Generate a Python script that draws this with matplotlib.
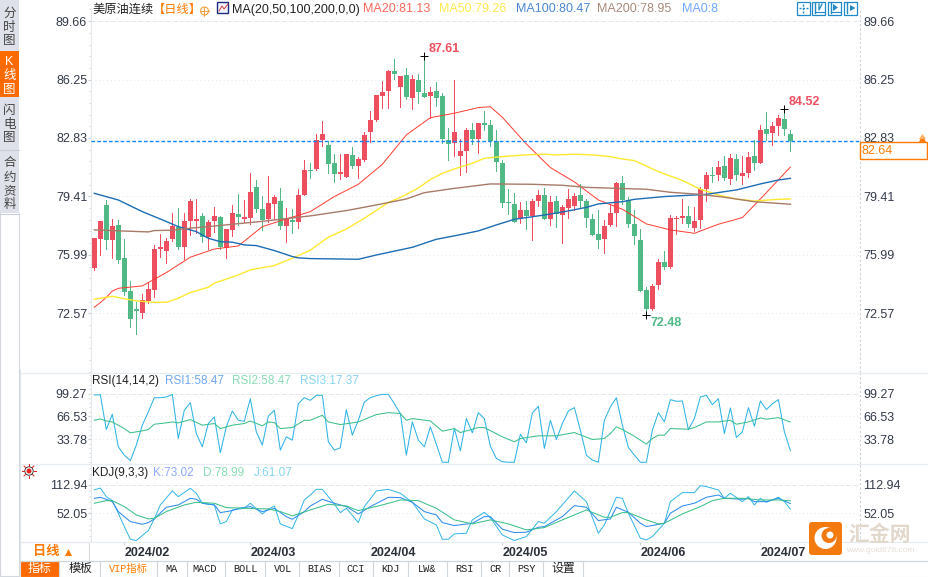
import numpy as np
import matplotlib
matplotlib.use("Agg")
import matplotlib.pyplot as plt
from matplotlib import patches
from matplotlib.ticker import AutoMinorLocator

plt.rcParams['font.family'] = ['Liberation Sans', 'Noto Sans CJK SC', 'DejaVu Sans']

opens = [75.24, 76.94, 78.89, 76.86, 77.74, 75.81, 73.87, 72.76, 72.61, 73.29,
         73.93, 76.33, 76.24, 76.90, 77.64, 76.45, 77.99, 77.99, 78.27, 77.06,
         77.99, 78.21, 76.39, 77.45, 78.40, 78.09, 78.15, 79.95, 78.68, 78.07,
         78.97, 79.15, 77.68, 77.97, 77.94, 79.50, 80.94, 81.04, 82.71, 82.42,
         81.35, 80.75, 80.57, 81.84, 81.21, 81.55, 83.18, 83.89, 85.29, 85.59,
         86.76, 85.84, 86.52, 85.18, 86.23, 85.47, 85.29, 85.59, 85.29, 82.72,
         82.56, 81.78, 82.07, 83.30, 82.77, 83.71, 83.59, 82.66, 81.35, 79.09,
         78.97, 78.11, 78.62, 78.27, 79.15, 79.50, 78.09, 79.15, 78.32, 78.73,
         78.85, 79.50, 79.15, 78.09, 77.21, 76.92, 77.74, 78.44, 80.20, 79.20,
         77.80, 76.86, 73.93, 72.82, 74.23, 75.57, 75.28, 78.07, 78.17, 78.27,
         77.56, 78.03, 79.85, 80.67, 80.67, 81.19, 80.45, 81.60, 80.61, 80.78,
         81.78, 81.37, 83.36, 83.12, 83.54, 83.94, 83.07]
closes = [76.96, 77.96, 76.86, 77.68, 75.69, 73.84, 72.24, 72.72, 73.33, 73.99,
          76.33, 76.43, 76.80, 77.68, 76.45, 77.96, 79.15, 78.09, 77.06, 77.92,
          78.27, 76.45, 77.49, 78.44, 78.23, 78.21, 79.67, 78.68, 78.03, 79.01,
          79.36, 77.68, 78.13, 77.93, 79.50, 80.96, 80.90, 82.71, 83.07, 81.33,
          80.75, 80.84, 81.90, 81.19, 81.60, 83.01, 83.89, 85.35, 85.53, 86.76,
          86.58, 86.46, 85.23, 86.27, 85.53, 85.23, 85.53, 85.18, 82.75, 82.46,
          83.18, 82.07, 83.30, 82.77, 83.71, 83.61, 82.66, 81.43, 79.05, 79.01,
          77.93, 78.62, 78.27, 79.15, 79.50, 78.09, 79.09, 78.38, 78.79, 79.26,
          79.44, 79.15, 78.15, 77.15, 76.86, 77.68, 78.44, 80.20, 79.20, 77.80,
          77.10, 73.87, 72.82, 74.17, 75.57, 75.28, 78.15, 78.11, 78.21, 77.80,
          77.97, 79.85, 80.67, 80.59, 81.14, 80.49, 81.66, 80.67, 80.78, 81.72,
          81.37, 83.30, 83.07, 83.54, 84.00, 83.36, 82.64]
highs = [76.96, 77.96, 79.20, 78.07, 78.03, 76.90, 74.46, 73.25, 73.70, 74.33,
         76.57, 77.21, 76.96, 78.42, 78.74, 78.42, 79.24, 79.26, 78.46, 78.03,
         78.81, 78.27, 77.49, 78.91, 79.56, 79.20, 80.78, 80.38, 79.44, 80.61,
         79.48, 79.89, 78.72, 78.70, 79.85, 81.55, 81.35, 83.07, 83.83, 82.68,
         81.88, 81.90, 81.90, 82.33, 81.70, 83.20, 84.41, 85.35, 86.17, 86.81,
         87.45, 86.46, 86.91, 86.52, 86.58, 87.61, 85.84, 86.13, 85.45, 83.40,
         86.23, 82.75, 83.40, 83.73, 83.71, 84.41, 83.89, 83.30, 81.54, 79.85,
         79.59, 79.09, 79.15, 79.24, 79.79, 79.91, 79.44, 79.44, 78.91, 79.85,
         79.61, 80.14, 79.26, 78.38, 78.62, 78.03, 78.97, 80.26, 80.61, 79.38,
         78.62, 77.49, 74.09, 74.29, 75.75, 76.22, 78.32, 78.27, 79.24, 78.85,
         78.77, 79.95, 80.84, 81.12, 81.49, 81.78, 81.90, 81.90, 81.78, 82.03,
         82.71, 83.59, 84.36, 83.77, 84.18, 84.52, 83.30]
lows = [75.11, 75.98, 76.33, 75.79, 75.54, 73.64, 71.75, 71.36, 72.30, 73.19,
        73.50, 75.85, 75.54, 76.82, 76.33, 75.73, 77.16, 77.25, 76.74, 76.32,
        77.35, 76.32, 75.81, 77.10, 77.74, 77.94, 77.80, 78.52, 77.45, 77.90,
        78.07, 77.49, 76.74, 77.25, 77.58, 79.50, 80.47, 80.96, 82.38, 80.80,
        80.28, 80.41, 80.53, 81.06, 80.51, 81.49, 82.62, 83.85, 84.61, 84.57,
        86.27, 84.67, 85.10, 84.55, 84.86, 85.23, 83.98, 84.71, 82.52, 81.55,
        81.78, 80.67, 80.86, 82.48, 81.97, 83.30, 82.38, 80.90, 78.81, 78.38,
        77.90, 77.88, 77.51, 76.86, 78.85, 78.09, 77.74, 77.62, 76.69, 78.15,
        78.62, 78.72, 77.62, 77.15, 76.39, 76.10, 77.68, 77.68, 78.97, 77.62,
        76.63, 73.87, 72.48, 72.76, 73.99, 75.16, 75.24, 77.21, 77.86, 77.62,
        77.39, 77.56, 79.15, 80.24, 80.37, 80.37, 80.14, 80.37, 80.14, 80.57,
        80.96, 81.37, 82.71, 82.42, 83.01, 83.01, 82.07]

ma20_i = [0, 1, 2, 3, 4, 8, 12, 16, 20, 24, 28, 32, 36, 40, 44, 48, 52, 56, 60, 64,
          66, 68, 72, 76, 80, 84, 88, 92, 96, 100, 104, 108, 112, 116]
ma20 = [72.92, 73.19, 73.50, 73.87, 74.03, 74.17, 74.95, 75.85, 76.33, 76.51, 77.64,
        78.09, 78.52, 79.40, 80.12, 81.29, 83.01, 84.02, 84.28, 84.61, 84.66, 84.04,
        82.48, 81.10, 80.26, 79.20, 78.66, 77.80, 77.45, 77.25, 77.78, 78.17, 79.63, 81.13]
ma50_i = [0, 3, 7, 10, 12, 14, 16, 19, 20, 24, 26, 30, 33, 36, 39, 42, 45, 49, 51, 54,
          56, 58, 60, 63, 65, 68, 72, 75, 77, 80, 83, 86, 88, 90, 94, 98, 101, 104, 107,
          110, 114, 116]
ma50 = [73.39, 73.56, 73.29, 73.21, 73.21, 73.45, 73.78, 74.09, 74.33, 74.81, 75.11,
        75.36, 75.79, 76.26, 77.02, 77.50, 78.13, 79.05, 79.35, 79.90, 80.40, 80.76,
        81.02, 81.35, 81.64, 81.74, 81.84, 81.88, 81.84, 81.88, 81.84, 81.74, 81.60,
        81.51, 80.86, 80.34, 79.83, 79.49, 79.26, 79.14, 79.24, 79.26]
ma100_i = [0, 4, 8, 12, 14, 17, 19, 21, 23, 25, 27, 30, 33, 34, 36, 44, 47, 53, 57, 60,
           64, 67, 70, 75, 79, 82, 84, 88, 90, 95, 102, 107, 111, 114, 116]
ma100 = [79.59, 79.20, 78.52, 77.94, 77.64, 77.35, 76.96, 76.76, 76.73, 76.57, 76.53,
         76.24, 75.89, 75.81, 75.77, 75.73, 75.98, 76.43, 76.90, 77.10, 77.39, 77.74,
         78.07, 78.32, 78.56, 78.77, 78.97, 79.10, 79.24, 79.40, 79.53, 79.79, 80.14,
         80.37, 80.47]
ma200_i = [0, 9, 10, 13, 16, 19, 23, 28, 30, 36, 42, 47, 52, 55, 60, 66, 73, 78, 82, 88,
           92, 96, 101, 105, 110, 116]
ma200 = [77.45, 77.33, 77.41, 77.43, 77.55, 77.64, 77.78, 77.95, 78.03, 78.27, 78.58,
         78.91, 79.26, 79.63, 79.88, 80.14, 80.12, 80.06, 79.94, 79.87, 79.83, 79.65,
         79.53, 79.36, 79.10, 78.95]

rsi_fast = [97.4, 97.8, 47.7, 69.6, 22.8, 10.8, 2.7, 25.2, 53.9, 73.0,
            93.5, 93.5, 94.5, 98.3, 34.7, 75.4, 86.4, 41.9, 22.8, 56.3,
            65.8, 14.2, 51.5, 74.4, 61.0, 59.6, 92.1, 44.3, 25.2, 66.8,
            75.4, 18.0, 37.1, 32.3, 84.9, 93.5, 89.7, 96.9, 96.9, 30.0,
            18.0, 21.4, 76.3, 39.5, 61.0, 87.3, 93.5, 96.4, 98.3, 98.3,
            84.9, 70.6, 10.8, 58.7, 32.3, 22.8, 51.5, 26.6, 0.5, 0.5,
            49.1, 17.0, 63.4, 42.9, 72.0, 63.4, 23.7, 6.0, 1.3, 0.5,
            0.5, 40.9, 28.5, 71.5, 81.1, 20.4, 61.0, 33.3, 56.3, 74.4,
            79.2, 46.7, 10.8, 3.7, 0.5, 61.0, 80.1, 93.5, 53.9, 21.8,
            10.8, 0.5, 0.5, 46.7, 72.0, 58.7, 90.7, 88.3, 88.8, 47.6,
            63.4, 94.5, 96.9, 83.5, 92.1, 41.9, 78.7, 36.2, 44.3, 79.2,
            52.4, 88.8, 76.3, 84.9, 90.7, 44.3, 17.37]
rsi_slow_i = [0, 1, 2, 3, 5, 6, 8, 9, 10, 12, 13, 14, 16, 18, 20, 21, 23, 25, 26, 28,
              29, 30, 31, 33, 35, 36, 38, 39, 41, 43, 44, 47, 49, 51, 52, 53, 56, 58, 60, 61,
              64, 65, 68, 70, 71, 74, 77, 80, 83, 85, 86, 87, 88, 90, 92, 93, 94, 95, 96, 99,
              100, 102, 104, 106, 107, 109, 111, 112, 114, 116]
rsi_slow = [61.0, 63.0, 60.0, 58.6, 49.0, 42.9, 45.7, 47.6, 55.3, 57.2, 58.6, 57.2, 62.0,
            53.9, 56.3, 49.0, 53.9, 56.3, 60.0, 53.0, 58.6, 57.7, 49.0, 50.5, 61.0, 61.0,
            68.2, 58.6, 54.8, 57.2, 58.6, 69.2, 72.0, 70.6, 61.0, 63.4, 60.0, 45.3, 49.0,
            43.3, 50.5, 50.5, 37.1, 30.0, 34.7, 38.6, 38.6, 43.3, 33.3, 34.7, 41.9, 51.5,
            47.6, 38.0, 26.6, 34.7, 39.5, 39.5, 49.0, 48.1, 50.5, 58.6, 58.6, 61.0, 55.3,
            58.6, 64.4, 62.5, 64.8, 58.47]

kdj_j_i = [0, 1, 2, 3, 4, 5, 6, 7, 8, 9, 10, 11, 13, 14, 16, 17, 18, 20, 21, 22, 23, 25,
           26, 28, 29, 30, 31, 33, 34, 35, 36, 37, 38, 40, 41, 42, 44, 45, 47, 49, 51, 53,
           55, 57, 58, 59, 60, 62, 63, 65, 66, 68, 70, 72, 74, 75, 77, 80, 82, 84, 85, 87,
           88, 89, 91, 92, 93, 95, 96, 98, 100, 101, 102, 104, 105, 106, 108, 109, 110,
           111, 112, 114, 115, 116]
kdj_j = [102.2, 106.5, 87.9, 79.3, 52.1, 23.4, -3.8, -6.6, 4.1, 14.9, 39.9, 70.0, 100.1,
         87.9, 105.8, 95.1, 73.6, 70.0, 29.2, 34.2, 59.2, 62.8, 73.6, 50.7, 60.7, 67.8,
         29.2, 19.1, 48.5, 80.7, 91.5, 103.6, 103.6, 72.1, 53.5, 62.8, 32.0, 66.4, 100.1,
         103.6, 95.1, 75.7, 39.9, 27.0, -3.8, -3.8, 7.7, 9.1, 37.8, 54.2, 42.8, 5.5, -6.6,
         2.0, 34.2, 30.6, 55.7, 100.1, 77.1, 9.1, 27.0, 86.5, 84.3, 52.1, -1.6, -5.2, 2.0,
         30.6, 77.1, 96.5, 96.5, 111.5, 109.4, 102.2, 84.3, 95.1, 77.1, 87.9, 70.0, 84.3,
         75.7, 86.5, 77.1, 61.07]
kdj_k_i = [0, 1, 2, 3, 4, 6, 8, 9, 10, 12, 14, 16, 17, 18, 20, 21, 23, 24, 26, 28, 29, 30,
           32, 33, 35, 36, 38, 40, 42, 44, 46, 49, 51, 53, 55, 57, 58, 60, 63, 65, 66, 68,
           70, 72, 74, 75, 78, 80, 82, 84, 86, 87, 89, 91, 92, 95, 96, 98, 100, 102, 104,
           105, 108, 109, 110, 112, 114, 116]
kdj_k = [84.3, 86.5, 82.2, 77.1, 55.7, 34.2, 28.5, 32.0, 39.9, 65.0, 70.0, 84.3, 82.2, 73.6,
         70.0, 53.5, 57.8, 62.8, 66.4, 55.7, 59.2, 62.8, 44.9, 39.2, 55.7, 67.8, 82.2, 73.6,
         66.4, 50.7, 66.4, 86.5, 85.7, 75.7, 55.7, 48.5, 32.0, 25.6, 30.6, 44.9, 44.9, 17.7,
         10.6, 11.3, 22.0, 23.4, 44.9, 68.6, 65.0, 36.3, 39.9, 65.0, 54.2, 30.6, 23.4, 30.6,
         52.1, 67.8, 73.6, 86.5, 91.5, 84.3, 82.2, 84.3, 77.1, 77.1, 84.3, 73.02]
kdj_d_i = [0, 2, 3, 5, 7, 9, 10, 12, 15, 17, 20, 22, 25, 29, 31, 33, 36, 39, 42, 44, 48, 51,
           54, 57, 60, 63, 66, 69, 72, 75, 78, 82, 85, 86, 88, 89, 92, 94, 95, 98, 101, 103,
           105, 108, 111, 114, 116]
kdj_d = [73.6, 79.3, 79.3, 66.4, 48.5, 39.9, 41.3, 55.7, 70.0, 75.7, 73.6, 64.3, 62.8, 61.4,
         55.7, 46.4, 59.2, 71.4, 67.8, 57.8, 70.0, 80.7, 79.3, 62.8, 37.8, 29.2, 37.8, 29.2,
         16.3, 21.3, 37.8, 59.2, 43.5, 43.5, 53.5, 53.5, 37.8, 29.2, 30.6, 50.7, 66.4, 79.3,
         84.3, 84.3, 80.7, 80.7, 78.99]

price_ticks = [72.57, 75.99, 79.41, 82.83, 86.25, 89.66]
rsi_ticks = [33.78, 66.53, 99.27]
kdj_ticks = [52.05, 112.94]
date_i = [5, 26, 46, 68, 91, 111]
date_labels = ['2024/02', '2024/03', '2024/04', '2024/05', '2024/06', '2024/07']
last_price = 82.64

W, H = 929, 577
RED, GREEN = '#ee4f5f', '#50b986'
TICK = '#333a4a'
GRID = '#e4e6e8'
ORANGE = '#ff7a00'


def panel(fig, y0, y1, ylim, ticks):
    ax = fig.add_axes([90.7 / W, 1 - y1 / H, (860 - 90.7) / W, (y1 - y0) / H])
    # one candle every 6 px, first one at x=94.3
    ax.set_xlim(-0.6, 127.6)
    ax.set_ylim(*ylim)
    ax.set_yticks(ticks)
    ax.set_yticklabels([f"{t:.2f}" for t in ticks], fontsize=9, color=TICK)
    ax.tick_params(axis='y', which='major', length=2, color='#c8d0d8', pad=0.5,
                   labelleft=True, labelright=True, left=True, right=False, direction='out')
    ax.tick_params(axis='y', which='minor', length=1.5, color='#d0d6dc', left=True, right=False)
    ax.yaxis.set_minor_locator(AutoMinorLocator(5))
    ax.set_xticks([])
    for t in ticks:
        ax.axhline(t, color=GRID, lw=0.7, ls=(0, (1, 3)), zorder=0)
    ax.axhline(ticks[-1], color=GRID, lw=0.7, ls=(0, (4, 3)), zorder=0)
    for s in ax.spines.values():
        s.set_visible(False)
    ax.spines['left'].set_visible(True)
    ax.spines['left'].set_color('#e3e8ec')
    ax.spines['right'].set_visible(True)
    ax.spines['right'].set_color('#c8d0d8')
    ax.spines['right'].set_linestyle((0, (1, 3)))
    ax.patch.set_alpha(0)
    return ax


def candles(ax):
    x = np.arange(len(closes))
    o, h, l, c = map(np.array, (opens, highs, lows, closes))
    col = np.where(c >= o, RED, GREEN)
    ax.vlines(x, l, h, colors=col, lw=0.72, zorder=2, antialiased=False)
    body = np.maximum(np.abs(c - o), 0.07)
    ax.bar(x, body, bottom=np.minimum(o, c), width=0.9, color=col, lw=0, zorder=3, antialiased=False)


def mark_extreme(ax, i, value, color, dx, dy):
    ax.plot([i], [value], marker='+', color='black', ms=6, mew=0.7, zorder=5, ls='none')
    ax.annotate(f"{value:.2f}", (i, value), xytext=(dx, dy), textcoords='offset pixels',
                color=color, fontsize=9, fontweight='bold', va='center', zorder=6)


def furniture(ui):
    # side tabs
    ui.add_patch(patches.Rectangle((0, 0), 19.5, 213, color='#dfe1ea', lw=0))
    ui.add_patch(patches.Rectangle((0, 51), 19.5, 46, color='#ff6a00', lw=0))
    ui.plot([19.5, 19.5, 0.5, 0.5], [213, 576, 576, 213], color='#d3d8de', lw=0.8)
    ui.plot([0, 19.5], [149.5, 149.5], color='#c9ccd6', lw=0.8)
    ui.plot([0, 19.5], [213.5, 213.5], color='#c9ccd6', lw=0.8)
    side = [('分', 14, '#444'), ('时', 28, '#444'), ('图', 41, '#444'),
            ('K', 62, 'white'), ('线', 76, 'white'), ('图', 90, 'white'),
            ('闪', 111, '#444'), ('电', 125, '#444'), ('图', 138, '#444'),
            ('合', 163, '#444'), ('约', 178, '#444'), ('资', 191, '#444'), ('料', 205, '#444')]
    for ch, y, col in side:
        ui.text(9.5, y, ch, color=col, fontsize=9, ha='center', va='center')

    # panel separators
    for y in [372.5, 463.5, 541.5]:
        ui.plot([20, 929], [y, y], color='#e6ecf0', lw=0.9)
    ui.plot([20, 20], [370, 577], color='#dfe4e8', lw=0.8)

    # header legends
    y = 9.5
    ui.text(92, y, '美原油连续', color='#222', fontsize=8.8, va='center')
    ui.text(153, y, '【日线】', color=ORANGE, fontsize=8.8, va='center')
    ui.add_patch(patches.Circle((204.5, 11), 4, fc='none', ec='#f5a040', lw=0.8))
    ui.plot([200, 209], [11, 11], color='#f5a040', lw=0.7)
    ui.plot([204.5, 204.5], [6.5, 15.5], color='#f5a040', lw=0.7)
    ui.add_patch(patches.Rectangle((217.5, 2), 11, 11, fc='#f4f6ff', ec='#1c2a80', lw=1))
    ui.plot([219, 222, 224, 228], [11, 6, 9, 4], color='#d04040', lw=0.7)
    header = [(232, 'MA(20,50,100,200,0,0)', '#222'), (363, 'MA20:81.13', '#f96a5a'),
              (439, 'MA50:79.26', '#ffe94f'), (516, 'MA100:80.47', '#4a88d4'),
              (597, 'MA200:78.95', '#a98a7c'), (682, 'MA0:8', '#6fa8ff')]
    for x, s, col in header:
        ui.text(x, y, s, color=col, fontsize=9, va='center')
    ui.text(92, 381, 'RSI(14,14,2)', color='#222', fontsize=8.5, va='center')
    for x, s, col in [(165, 'RSI1:58.47', '#6fa8f0'), (232, 'RSI2:58.47', '#86dcb4'),
                      (300, 'RSI3:17.37', '#86d4f0')]:
        ui.text(x, 381, s, color=col, fontsize=8.5, va='center')
    ui.text(92, 473, 'KDJ(9,3,3)', color='#222', fontsize=8.5, va='center')
    for x, s, col in [(153, 'K:73.02', '#8caaff'), (203, 'D:78.99', '#86dcb4'),
                      (254, 'J:61.07', '#86d4f0')]:
        ui.text(x, 473, s, color=col, fontsize=8.5, va='center')

    # toolbar buttons
    for x in [797, 812.5, 828.5, 844.5]:
        ui.add_patch(patches.Rectangle((x, 1.5), 13, 13, fc='white', ec='#1e88c8', lw=0.9))
    ui.plot([803.5, 803.5], [3.5, 12.5], color='#1e88c8', lw=1, ls=(0, (1.5, 1)))
    ui.plot([799, 808], [8, 8], color='#1e88c8', lw=1, ls=(0, (1.5, 1)))
    for x in [815, 831, 847]:
        ui.plot([x, x], [3, 12.5], color='#1e88c8', lw=1)
    ui.plot([815, 824], [12, 12], color='#1e88c8', lw=0.8)
    ui.plot([831, 840], [12, 12], color='#1e88c8', lw=0.8)
    ui.add_patch(patches.Polygon([[833, 4], [833, 11], [838, 7.5]], color='#1e88c8', lw=0))
    ui.plot([819, 819, 822], [4, 10, 4], color='#1e88c8', lw=0.9)
    ui.add_patch(patches.Polygon([[850, 5], [855.5, 8], [850, 11]], color='#1e88c8', lw=0))

    # current price box on the right axis
    ui.add_patch(patches.Rectangle((860, 142), 67.5, 17, fc='white', ec=ORANGE, lw=1, zorder=4))
    ui.text(862, 151, f"{last_price:.2f}", color=ORANGE, fontsize=9, va='center', zorder=5)
    ui.add_patch(patches.Polygon([[919, 142], [922.5, 135], [926, 142]], color=ORANGE, lw=0, zorder=5))
    ui.add_patch(patches.Polygon([[919, 139], [922.5, 134], [926, 139]], color='#ffb060', lw=0, zorder=5))

    # sun icon
    ui.add_patch(patches.Circle((29, 471), 2.5, color='#e82020', lw=0))
    ui.add_patch(patches.Circle((29, 471), 4.2, fc='none', ec='#222', lw=0.6))
    for a in np.deg2rad(np.arange(0, 360, 45)):
        ui.plot([29 + 5 * np.cos(a), 29 + 7 * np.cos(a)], [471 + 5 * np.sin(a), 471 + 7 * np.sin(a)],
                color='#e82020', lw=0.7)

    # bottom tabs
    ui.add_patch(patches.Rectangle((20.5, 541.5), 69, 19, fc='white', ec='#d6dade', lw=0.8))
    ui.text(46, 552, '日线', color=ORANGE, fontsize=9.5, fontweight='bold', ha='center', va='center')
    ui.add_patch(patches.Polygon([[65, 556], [72, 556], [68.5, 549]], color=ORANGE, lw=0))
    ui.plot([20, 929], [561, 561], color='#cfd6dc', lw=0.9)
    ui.plot([20, 929], [576.5, 576.5], color='#dfe4e8', lw=0.8)
    ui.add_patch(patches.Rectangle((20, 561), 39, 16, color='#ff6a00', lw=0))
    edges = [59.5, 100, 157, 187, 225, 265, 299, 339, 373, 408, 447, 481, 509, 543, 583]
    for x in edges:
        ui.plot([x, x], [561, 576], color='#cfd6dc', lw=0.8)
    tabs = [(40, '指标', 'white'), (80, '模板', '#222'), (128, 'VIP指标', ORANGE), (172, 'MA', '#222'),
            (205, 'MACD', '#222'), (246, 'BOLL', '#222'), (283, 'VOL', '#222'), (320, 'BIAS', '#222'),
            (356, 'CCI', '#222'), (390, 'KDJ', '#222'), (427, 'LW&', '#222'), (464, 'RSI', '#222'),
            (496, 'CR', '#222'), (526, 'PSY', '#222'), (563, '设置', '#222')]
    for x, s, col in tabs:
        size = 8.6 if ord(s[0]) > 255 else 7.4
        ui.text(x, 569, s, color=col, fontsize=size, ha='center', va='center',
                family=['Liberation Mono', 'Noto Sans CJK SC'])

    # watermark
    ui.add_patch(patches.FancyBboxPatch((811, 524), 29, 29, boxstyle='round,pad=2,rounding_size=3',
                                        fc='#f27a0e', ec='none', zorder=6))
    ui.add_patch(patches.Circle((825.5, 538), 11, color='white', lw=0, zorder=7))
    ui.add_patch(patches.Circle((829, 535.5), 7.5, color='#f27a0e', lw=0, zorder=7))
    ui.add_patch(patches.Circle((830, 535), 3.5, color='white', lw=0, zorder=7))
    ui.text(880, 535, '汇金网', color='#e2d8cc', fontsize=15, fontweight='bold', ha='center', va='center', zorder=7)
    ui.text(880, 551, 'www.gold678.com', color='#e6dfd6', fontsize=6, ha='center', va='center', zorder=7)


def main():
    fig = plt.figure(figsize=(W / 100, H / 100), dpi=100, facecolor='white')

    main_ax = panel(fig, 8, 372, (69.13, 90.44), price_ticks)
    rsi_ax = panel(fig, 372.5, 463.3, (-1.0, 129.8), rsi_ticks)
    kdj_ax = panel(fig, 463.3, 541.7, (-9.1, 159.6), kdj_ticks)

    candles(main_ax)
    main_ax.plot(ma20_i, ma20, color='#ff3b30', lw=0.7, zorder=4)
    main_ax.plot(ma50_i, ma50, color='#ffe92e', lw=1.0, zorder=4)
    main_ax.plot(ma100_i, ma100, color='#1c6db5', lw=1.0, zorder=4)
    main_ax.plot(ma200_i, ma200, color='#a87a68', lw=1.0, zorder=4)
    main_ax.axhline(last_price, color='#0a84ff', lw=1.0, ls=(0, (2.6, 1.6)), zorder=4)

    # the labelled extremes are not always the lowest wick of the whole series
    top = int(np.argmax(highs))
    recent = 100 + int(np.argmax(highs[100:]))
    bottom = 60 + int(np.argmin(lows[60:]))
    mark_extreme(main_ax, top, highs[top], RED, 4, 7)
    mark_extreme(main_ax, recent, highs[recent], RED, 4, 7)
    mark_extreme(main_ax, bottom, lows[bottom], GREEN, 4, -8)

    rsi_ax.plot(np.arange(len(rsi_fast)), rsi_fast, color='#2fb4e6', lw=0.75)
    rsi_ax.plot(rsi_slow_i, rsi_slow, color='#3cc08a', lw=0.75)

    kdj_ax.plot(kdj_j_i, kdj_j, color='#2fb4e6', lw=0.7)
    kdj_ax.plot(kdj_k_i, kdj_k, color='#2e8cf0', lw=0.75)
    kdj_ax.plot(kdj_d_i, kdj_d, color='#3cc08a', lw=0.75)

    kdj_ax.set_xticks(date_i)
    kdj_ax.set_xticklabels(date_labels, fontsize=9, fontweight='bold', color='#2b2f38', ha='left')
    kdj_ax.tick_params(axis='x', length=2, color='#c8d0d8', pad=2)

    ui = fig.add_axes([0, 0, 1, 1], zorder=10)
    ui.set_xlim(0, W)
    ui.set_ylim(H, 0)
    ui.axis('off')
    furniture(ui)

    fig.savefig("out.png", dpi=100)


if __name__ == "__main__":
    main()
